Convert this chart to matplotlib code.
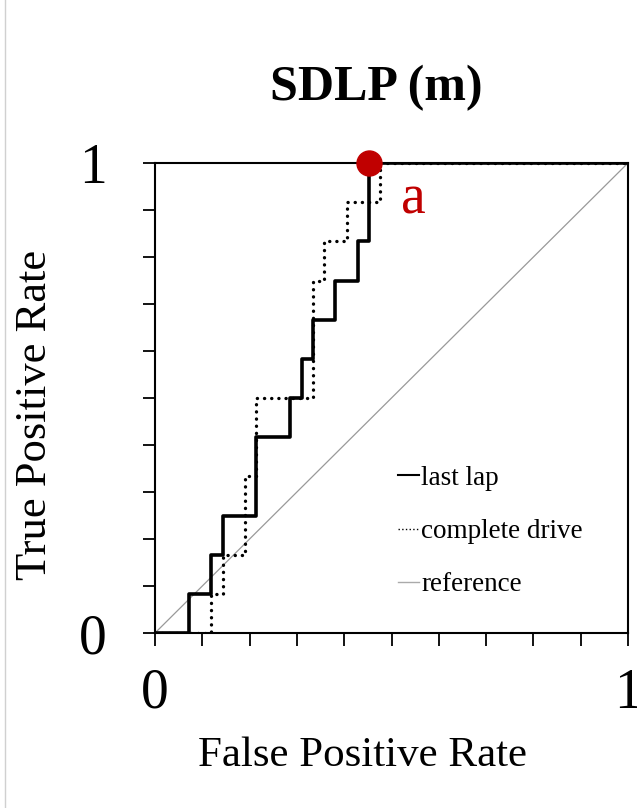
import numpy as np
import matplotlib
matplotlib.use("Agg")
import matplotlib.pyplot as plt
from matplotlib.lines import Line2D

plt.rcParams['font.family'] = ['Liberation Serif', 'DejaVu Serif']

# ROC points (corner after each vertical rise)
last_lap_fpr = [0.0, 0.071, 0.119, 0.143, 0.214, 0.286, 0.310, 0.333, 0.381, 0.429, 0.452, 1.0]
last_lap_tpr = [0.0, 0.083, 0.167, 0.250, 0.417, 0.500, 0.583, 0.667, 0.750, 0.833, 1.000, 1.0]

complete_fpr = [0.0, 0.119, 0.143, 0.190, 0.214, 0.333, 0.357, 0.405, 0.476, 1.0]
complete_tpr = [0.0, 0.083, 0.167, 0.333, 0.500, 0.750, 0.833, 0.917, 1.000, 1.0]

reference = [0.0, 1.0]

# operating point marked with the red dot
point_fpr = 0.452
point_tpr = 1.0
point_label = "a"

title = "SDLP (m)"
tick_vals = np.round(np.arange(0, 1.01, 0.1), 1)
tick_labels = ["0"] + [""] * 9 + ["1"]

fig = plt.figure(figsize=(6.37, 8.08), dpi=100)
ax = fig.add_axes([155 / 637, 1 - 633 / 808, 473 / 637, 470 / 808])

# curves
ax.plot(reference, reference, color="#999999", lw=0.9, label="reference", zorder=2)
ax.plot(complete_fpr, complete_tpr, drawstyle="steps-post", color="black",
        lw=2.4, linestyle=(0, (0.05, 2.1)), dash_capstyle="round",
        label="complete drive", zorder=3)
ax.plot(last_lap_fpr, last_lap_tpr, drawstyle="steps-post", color="black",
        lw=2.6, label="last lap", zorder=4)

ax.plot([point_fpr], [point_tpr], "o", color="#C00000", ms=18, zorder=6, clip_on=False)
ax.text(point_fpr + 0.095, point_tpr - 0.078, point_label, color="#C00000",
        fontsize=40, ha="center", va="center")

ax.set_xlim(0, 1)
ax.set_ylim(0, 1)
ax.set_xticks(tick_vals)
ax.set_yticks(tick_vals)
ax.set_xticklabels(tick_labels, fontsize=40)
ax.set_yticklabels(tick_labels, fontsize=40)
ax.tick_params(axis="x", direction="out", length=9, width=1.3, pad=16)
ax.tick_params(axis="y", direction="out", length=9, width=1.3, pad=26)
for s in ax.spines.values():
    s.set_linewidth(1.5)

ax.set_xlabel("False Positive Rate", fontsize=31)
ax.xaxis.set_label_coords(0.438, -0.22)
ax.set_ylabel("True Positive Rate", fontsize=32)
ax.yaxis.set_label_coords(-0.212, 0.465)

fig.text(376 / 637, 1 - 88 / 808, title, fontsize=36, fontweight="bold",
         ha="center", va="center")

# legend with short handles, no frame
handles = [Line2D([], [], color="black", lw=1.5),
           Line2D([], [], color="black", lw=1.0, linestyle=":"),
           Line2D([], [], color="#aaaaaa", lw=1.0)]
ax.legend(handles, ["last lap", "complete drive", "reference"], loc="upper left",
          bbox_to_anchor=(0.463, 0.408), frameon=False, fontsize=19.5,
          handlelength=0.75, handletextpad=0.1, labelspacing=1.05)

# thin grey border line at left edge of the image
fig.add_artist(Line2D([5 / 637, 5 / 637], [0, 1], transform=fig.transFigure,
                      color="#d0d0d0", lw=1.0))

fig.savefig("out.png", dpi=100)
